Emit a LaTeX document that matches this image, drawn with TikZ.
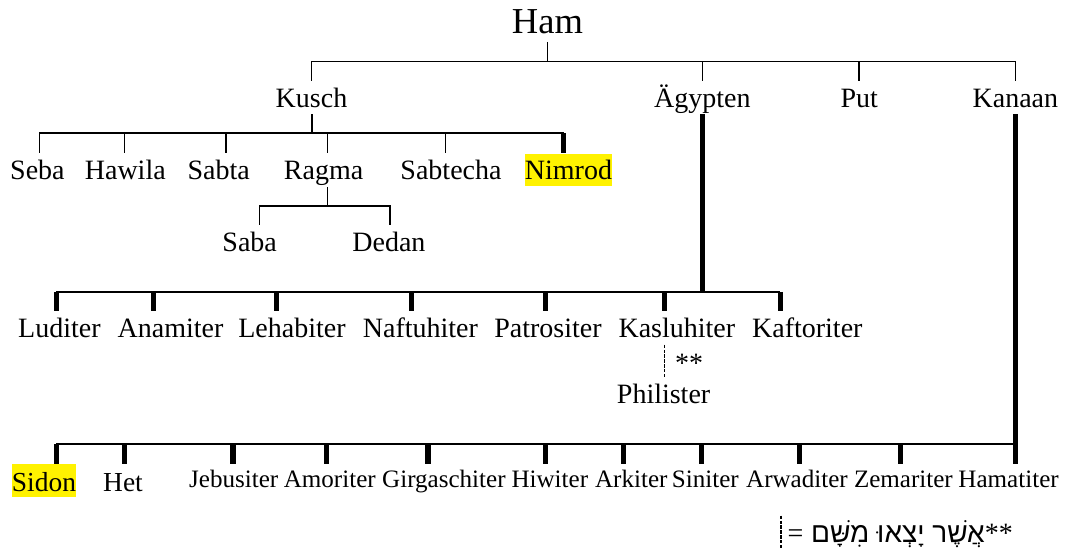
\documentclass[tikz,border=0pt]{standalone}
\usepackage{fontspec}
\setmainfont{Liberation Serif}
\newfontfamily\hebfont[Script=Hebrew]{Liberation Sans}
\TeXXeTstate=1

\tikzset{every picture/.style={line width=0.75pt}}
\tikzset{
  person/.style={anchor=base, inner sep=0pt, font=\fontsize{21}{25}\selectfont, text height=19.5pt, text depth=5pt},
  patriarch/.style={anchor=base, inner sep=0pt, font=\fontsize{27.4}{32}\selectfont, text height=25pt, text depth=6pt},
  tribe/.style={anchor=base, inner sep=0pt, font=\fontsize{18.8}{22}\selectfont, text height=17.2pt, text depth=4.5pt},
  city/.style={anchor=base, inner sep=0pt, font=\fontsize{20.6}{24}\selectfont, text height=20.2pt, text depth=4.5pt},
  hilite/.style={fill=yellow},
  thinline/.style={line width=1.1pt},
  forkline/.style={line width=1.5pt},
  boldline/.style={line width=4.1pt},
  dashline/.style={dashed, dash pattern=on 2.4pt off 1.3pt, line width=1pt}
}

\begin{document}
\begin{tikzpicture}[x=0.75pt,y=0.75pt,yscale=-1,xscale=1]
\useasboundingbox (0,0) rectangle (1065,550);

% Text Node
\node[patriarch] (ham) at (547.5,33.3) {Ham};
% Text Node
\node[person] (kusch) at (311.5,107) {Kusch};
\node[person] (aegypten) at (702.3,107) {Ägypten};
\node[person] (put) at (859.2,107) {Put};
\node[person] (kanaan) at (1015.4,107) {Kanaan};

%Straight Lines
\coordinate (hamfork) at (547.5,61.4);
\draw[thinline] (ham.south) -- (hamfork);
\draw[thinline] (kusch.north) |- (hamfork) -| (kanaan.north);
\draw[thinline] (aegypten.north) -- (aegypten.north |- hamfork);
\draw[thinline] (put.north) -- (put.north |- hamfork);

% Text Node
\node[person] (seba) at (37.4,179.6) {Seba};
\node[person] (hawila) at (125.3,179.6) {Hawila};
\node[person] (sabta) at (218.7,179.6) {Sabta};
\node[person] (ragma) at (323.6,179.6) {Ragma};
\node[person] (sabtecha) at (451,179.6) {Sabtecha};
\node[person,hilite] (nimrod) at (568.5,179.6) {Nimrod};

%Straight Lines
\coordinate (kuschfork) at (311.5,133.3);
\draw[forkline] (kusch.south) -- (kuschfork);
\foreach \n/\x in {seba/39.4,hawila/124.3,sabta/226.2,ragma/327.4,sabtecha/445.6,nimrod/563.7}
  \coordinate (t-\n) at (\x,133.3);
\draw[forkline] (t-seba) -- (t-nimrod);
\foreach \n in {seba,hawila,sabta,ragma,sabtecha}
  \draw[thinline] (t-\n) -- (t-\n |- \n.north);
\draw[boldline] (t-nimrod) -- (t-nimrod |- nimrod.north);

% Text Node
\node[person] (saba) at (249.7,251) {Saba};
\node[person] (dedan) at (388.9,251) {Dedan};

%Straight Lines
\coordinate (ragmafork) at (327.4,206.2);
\coordinate (t-saba) at (259.5,206.2);
\coordinate (t-dedan) at (389.9,206.2);
\draw[thinline] (t-ragma |- ragma.south) -- (ragmafork);
\draw[thinline] (t-saba |- saba.north) -- (t-saba) -- (t-dedan) -- (t-dedan |- dedan.north);

% Text Node
\node[person] (luditer) at (59.4,337.4) {Luditer};
\node[person] (anamiter) at (170.5,337.4) {Anamiter};
\node[person] (lehabiter) at (292,337.4) {Lehabiter};
\node[person] (naftuhiter) at (420.4,337.4) {Naftuhiter};
\node[person] (patrositer) at (548,337.4) {Patrositer};
\node[person] (kasluhiter) at (676.9,337.4) {Kasluhiter};
\node[person] (kaftoriter) at (807.3,337.4) {Kaftoriter};

%Straight Lines
\foreach \n/\x in {luditer/56.4,anamiter/153.5,lehabiter/276.4,naftuhiter/411.6,patrositer/545.4,kasluhiter/664.3,kaftoriter/780.4}
  \coordinate (t-\n) at (\x,291.8);
\draw[thinline] (t-luditer) -- (t-kaftoriter);
\draw[boldline] (aegypten.south) -- (aegypten.south |- t-luditer);
\foreach \n in {luditer,anamiter,lehabiter,naftuhiter,patrositer,kasluhiter,kaftoriter}
  \draw[boldline] (t-\n) -- (t-\n |- \n.north);

% Text Node
\node[person] (philister) at (663.6,403.4) {Philister};
\node[person,anchor=base west] (stars) at (674.5,372) {**};
\draw[dashline] (t-kasluhiter |- kasluhiter.south) -- (t-kasluhiter |- philister.north);

% Text Node
\node[city,hilite] (sidon) at (44,491) {Sidon};
\node[city] (het) at (123,491) {Het};
\node[tribe] (jebusiter) at (233.7,487.5) {Jebusiter};
\node[tribe] (amoriter) at (329.8,487.5) {Amoriter};
\node[tribe] (girgaschiter) at (443.9,487.5) {Girgaschiter};
\node[tribe] (hiwiter) at (549.8,487.5) {Hiwiter};
\node[tribe] (arkiter) at (631.3,487.5) {Arkiter};
\node[tribe] (siniter) at (705.4,487.5) {Siniter};
\node[tribe] (arwaditer) at (797,487.5) {Arwaditer};
\node[tribe] (zemariter) at (903.4,487.5) {Zemariter};
\node[tribe] (hamatiter) at (1008.6,487.5) {Hamatiter};

%Straight Lines
\foreach \n/\x in {sidon/56.4,het/124.3,jebusiter/233,amoriter/326.7,girgaschiter/427.9,hiwiter/545.4,arkiter/623.5,siniter/701.6,arwaditer/799.4,zemariter/900.6}
  \coordinate (t-\n) at (\x,443.7);
\draw[forkline] (t-sidon) -- (kanaan.south |- t-sidon);
\draw[boldline] (kanaan.south) -- (kanaan.south |- hamatiter.north);
\foreach \n in {sidon,het,jebusiter,amoriter,girgaschiter,hiwiter,arkiter,siniter,arwaditer,zemariter}
  \draw[boldline] (t-\n) -- (t-\n |- \n.north);

% Text Node
\node[anchor=base west, inner sep=0pt, font=\fontsize{21}{25}\selectfont] (note) at (787,542) {\beginR{**}\hebfont אֲשֶׁר יָצְאוּ מִשָּׁם {\rmfamily=}\endR};
\coordinate (notetop) at (781,515.6);
\coordinate (noteend) at (781,550);
\draw[dashline] (notetop) -- (noteend);

\end{tikzpicture}
\end{document}
